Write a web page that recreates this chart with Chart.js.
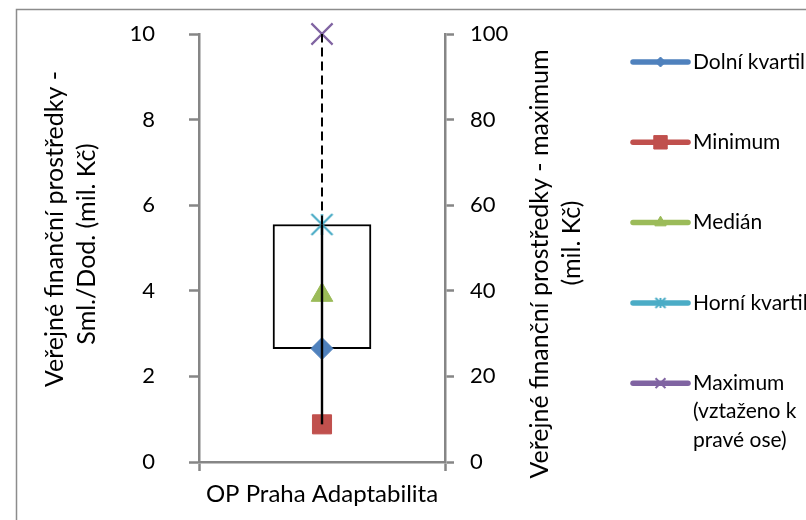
<!DOCTYPE html>
<html>
<head>
<meta charset="utf-8">
<script src="https://cdn.jsdelivr.net/npm/chart.js@4.4.0/dist/chart.umd.min.js"></script>
<style>
  html, body { margin: 0; padding: 0; background: #fff; }
  #wrap { width: 806px; height: 520px; }
</style>
</head>
<body>
<div id="wrap"><canvas id="boxChart" width="806" height="520"></canvas></div>
<script>
// --- data ---
const categories = ['OP Praha Adaptabilita'];
const lowerQuartile = [2.65];
const minimum = [0.88];
const median = [3.9];
const upperQuartile = [5.55];
const maximum = [100];          // read on the right axis
const leftTicks = [0, 2, 4, 6, 8, 10];
const rightTicks = [0, 20, 40, 60, 80, 100];
const seriesNames = [
    ['Dolní kvartil'],
    ['Minimum'],
    ['Medián'],
    ['Horní kvartil'],
    ['Maximum', '(vztaženo k', 'pravé ose)']
];
const leftTitle = ['Veřejné finanční prostředky -', 'Sml./Dod. (mil. Kč)'];
const rightTitle = ['Veřejné finanční prostředky - maximum', '(mil. Kč)'];

const FONT = 'Lato';
const AXIS_GREY = '#868686';
const C_BLUE = '#4F81BD', C_RED = '#C0504D', C_GREEN = '#9BBB59', C_AQUA = '#4BACC6', C_PURPLE = '#8064A2';

// right axis units per left axis unit
const axisRatio = rightTicks[rightTicks.length - 1] / leftTicks[leftTicks.length - 1];

// excel style star marker: X with a vertical stroke
function starMarker(size, color, lw) {
    const c = document.createElement('canvas');
    c.width = size + lw * 2;
    c.height = size + lw * 2;
    const g = c.getContext('2d');
    const m = c.width / 2, h = size / 2;
    g.strokeStyle = color;
    g.lineWidth = lw;
    g.beginPath();
    g.moveTo(m - h, m - h); g.lineTo(m + h, m + h);
    g.moveTo(m + h, m - h); g.lineTo(m - h, m + h);
    g.moveTo(m, m - h); g.lineTo(m, m + h);
    g.stroke();
    return c;
}

function markerSet(label, values, style, color, radius, axis, legendRadius) {
    return {
        type: 'line',
        label: label,
        data: categories.map((c, i) => ({ x: c, y: values[i] })),
        yAxisID: axis,
        showLine: false,
        pointStyle: style,
        pointRadius: radius,
        pointHoverRadius: radius,
        pointBackgroundColor: color,
        pointBorderColor: color,
        pointBorderWidth: style === 'crossRot' ? 2.2 : 1,
        borderColor: color,
        backgroundColor: color,
        legendRadius: legendRadius,
        clip: false,
        order: 1
    };
}

const datasets = [
    {
        type: 'bar',
        label: 'box',
        data: categories.map((c, i) => [lowerQuartile[i], upperQuartile[i]]),
        backgroundColor: '#ffffff',
        borderColor: '#000000',
        borderWidth: 2,
        borderSkipped: false,
        barThickness: 98,
        yAxisID: 'y',
        order: 3
    },
    {
        type: 'line',
        label: 'whisker',
        data: [{ x: categories[0], y: minimum[0] }, { x: categories[0], y: upperQuartile[0] }],
        borderColor: '#000000',
        borderWidth: 2.4,
        pointRadius: 0,
        yAxisID: 'y',
        clip: false,
        order: 0
    },
    {
        type: 'line',
        label: 'whiskerTop',
        data: [{ x: categories[0], y: upperQuartile[0] * axisRatio }, { x: categories[0], y: maximum[0] }],
        borderColor: '#000000',
        borderWidth: 2,
        borderDash: [9, 5],
        pointRadius: 0,
        yAxisID: 'y2',
        clip: false,
        order: 0
    },
    markerSet(seriesNames[0].join(' '), lowerQuartile, 'rectRot', C_BLUE, 11, 'y', 5),
    markerSet(seriesNames[1].join(' '), minimum, 'rect', C_RED, 13.5, 'y', 9.5),
    markerSet(seriesNames[2].join(' '), median, 'triangle', C_GREEN, 12.5, 'y', 6.5),
    markerSet(seriesNames[3].join(' '), upperQuartile, starMarker(21, C_AQUA, 2.2), C_AQUA, 11, 'y', 5),
    markerSet(seriesNames[4].join(' '), maximum, 'crossRot', C_PURPLE, 15, 'y2', 7)
];

// legend entries are the five marker series
const legendSets = [3, 4, 5, 6, 7];

const framePlugin = {
    id: 'frame',
    beforeDraw(chart) {
        const ctx = chart.ctx;
        ctx.save();
        ctx.fillStyle = '#ffffff';
        ctx.fillRect(0, 0, chart.width, chart.height);
        ctx.strokeStyle = '#8c8c8c';
        ctx.lineWidth = 1.5;
        ctx.strokeRect(16.5, 9.5, 1000, 1000);
        ctx.restore();
    }
};

// rotated axis titles, both reading bottom to top
const titlesPlugin = {
    id: 'axisTitles',
    afterDraw(chart) {
        const ctx = chart.ctx;
        ctx.save();
        ctx.fillStyle = '#000000';
        ctx.font = '25px ' + FONT;
        ctx.textAlign = 'center';
        ctx.textBaseline = 'middle';
        const drawVertical = (lines, xs, ys) => {
            lines.forEach((t, i) => {
                ctx.save();
                ctx.translate(xs[i], ys[i]);
                ctx.rotate(-Math.PI / 2);
                ctx.fillText(t, 0, 0);
                ctx.restore();
            });
        };
        drawVertical(leftTitle, [55, 87], [229, 244]);
        drawVertical(rightTitle, [540, 572], [264, 243]);
        ctx.restore();
    }
};

const legendPlugin = {
    id: 'sideLegend',
    afterDraw(chart) {
        const ctx = chart.ctx;
        const x0 = 633, x1 = 688, tx = 693;
        ctx.save();
        ctx.font = '21px ' + FONT;
        ctx.textBaseline = 'middle';
        ctx.textAlign = 'left';
        legendSets.forEach((di, i) => {
            const ds = chart.data.datasets[di];
            const y = 62 + i * 80.3;
            ctx.strokeStyle = ds.borderColor;
            ctx.lineWidth = 5.5;
            ctx.lineCap = 'round';
            ctx.setLineDash([]);
            ctx.beginPath();
            ctx.moveTo(x0, y);
            ctx.lineTo(x1, y);
            ctx.stroke();
            ctx.fillStyle = ds.pointBackgroundColor;
            ctx.strokeStyle = ds.pointBorderColor;
            ctx.lineWidth = ds.pointStyle === 'crossRot' ? 2 : 1;
            ctx.lineCap = 'butt';
            let style = ds.pointStyle;
            if (typeof style !== 'string') style = starMarker(10, ds.pointBorderColor, 2);
            Chart.helpers.drawPoint(ctx, {
                pointStyle: style,
                radius: ds.legendRadius,
                rotation: 0,
                borderWidth: ctx.lineWidth
            }, (x0 + x1) / 2, y);
            ctx.fillStyle = '#000000';
            seriesNames[i].forEach((t, k) => ctx.fillText(t, tx, y + k * 28.5));
        });
        ctx.restore();
    }
};

const tickFont = { family: FONT, size: 22 };

// fixed axis widths; the tick padding must not push the plot area down
function fixVertical(width) {
    return function (scale) {
        scale.width = width;
        scale.paddingTop = 0;
        scale.paddingBottom = 0;
    };
}

new Chart(document.getElementById('boxChart').getContext('2d'), {
    type: 'bar',
    data: { labels: categories, datasets: datasets },
    options: {
        responsive: false,
        animation: false,
        events: [],
        layout: { padding: { left: 16, top: 34, right: 0, bottom: 0 } },
        plugins: {
            legend: { display: false },
            tooltip: { enabled: false }
        },
        scales: {
            x: {
                type: 'category',
                offset: true,
                grid: {
                    offset: true,
                    drawOnChartArea: false,
                    drawTicks: true,
                    tickLength: 9,
                    tickColor: AXIS_GREY,
                    tickWidth: 2.5
                },
                border: { color: AXIS_GREY, width: 2.5 },
                ticks: { color: '#000000', font: { family: FONT, size: 24 }, padding: 9 },
                afterFit(scale) { scale.height = 58; scale.paddingLeft = 0; scale.paddingRight = 0; }
            },
            y: {
                position: 'left',
                min: leftTicks[0],
                max: leftTicks[leftTicks.length - 1],
                ticks: { stepSize: leftTicks[1] - leftTicks[0], color: '#000000', font: tickFont, padding: 34 },
                grid: { drawOnChartArea: false, tickLength: 10, tickColor: AXIS_GREY, tickWidth: 2.5 },
                border: { color: AXIS_GREY, width: 2.5 },
                afterFit: fixVertical(183)
            },
            y2: {
                position: 'right',
                min: rightTicks[0],
                max: rightTicks[rightTicks.length - 1],
                ticks: { stepSize: rightTicks[1] - rightTicks[0], color: '#000000', font: tickFont, padding: 16 },
                grid: { drawOnChartArea: false, tickLength: 9, tickColor: AXIS_GREY, tickWidth: 2.5 },
                border: { color: AXIS_GREY, width: 2.5 },
                afterFit: fixVertical(361)
            }
        }
    },
    plugins: [framePlugin, titlesPlugin, legendPlugin]
});
</script>
</body>
</html>
